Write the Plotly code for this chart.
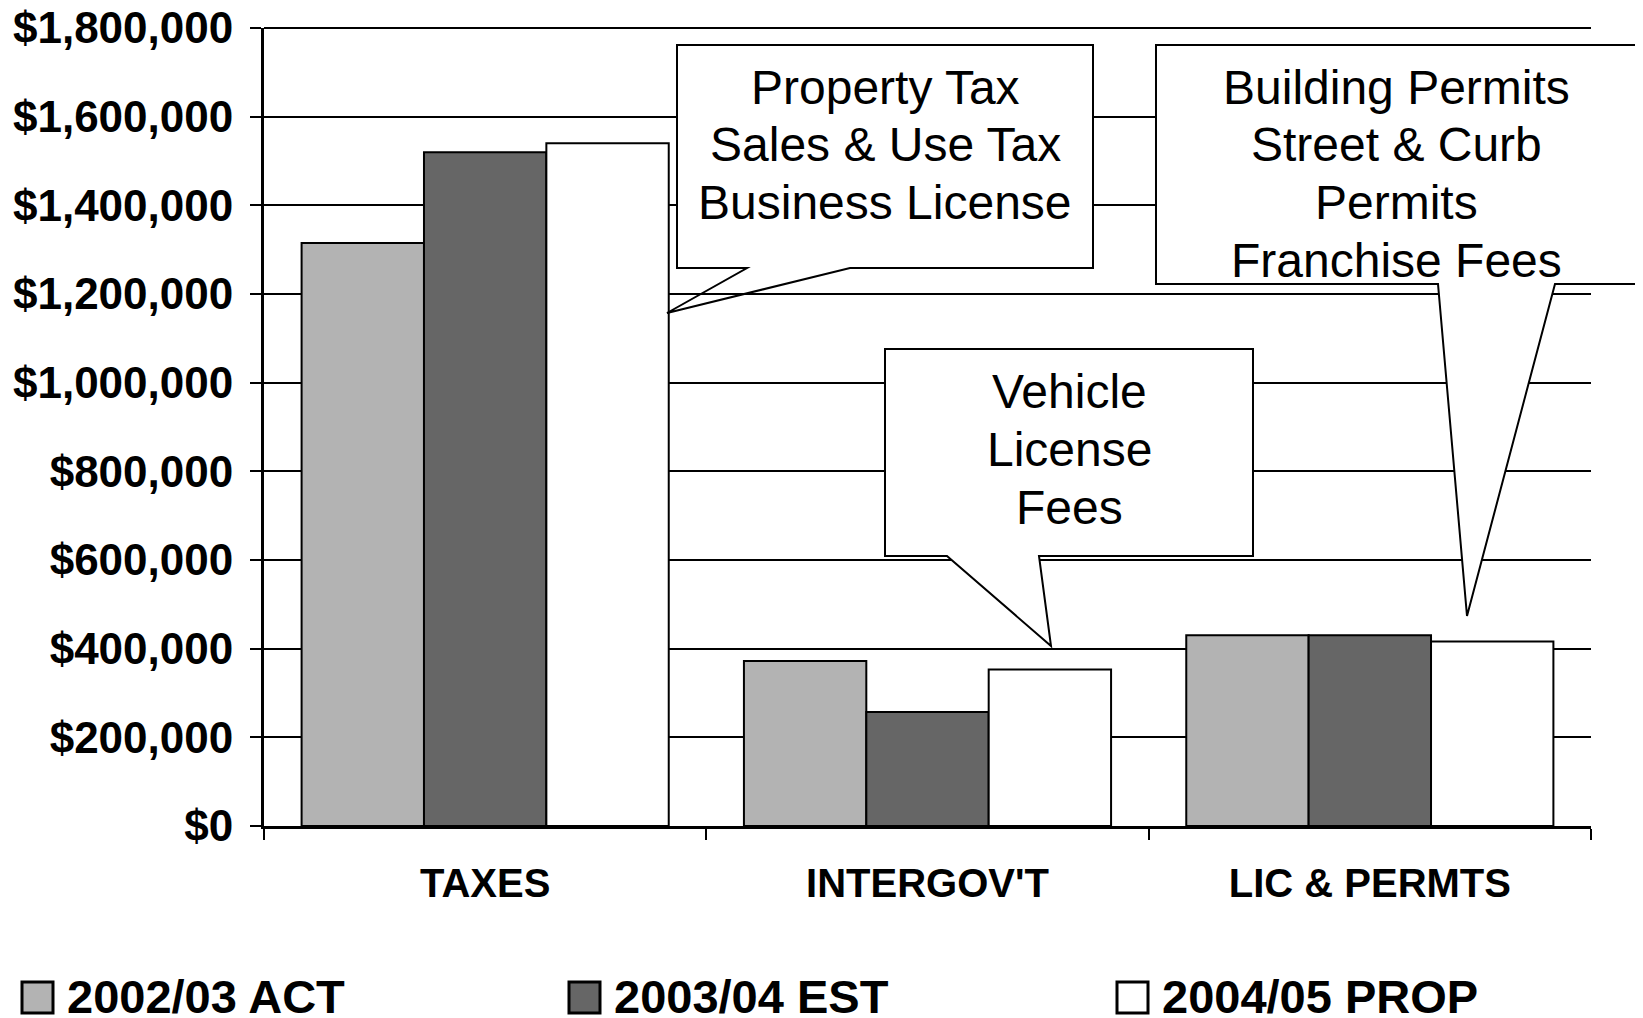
import plotly.graph_objects as go

# Data
categories = ["TAXES", "INTERGOV'T", "LIC & PERMTS"]
series_names = ["2002/03 ACT", "2003/04 EST", "2004/05 PROP"]
act_2002 = [1315000, 372000, 430000]
est_2003 = [1520000, 257000, 430000]
prop_2004 = [1540000, 353000, 416000]
series_colors = ["#b3b3b3", "#666666", "#ffffff"]
y_max = 1800000
y_step = 200000

callout_texts = [
    ["Property Tax", "Sales & Use Tax", "Business License"],
    ["Vehicle", "License", "Fees"],
    ["Building Permits", "Street & Curb", "Permits", "Franchise Fees"],
]

FONT = "Liberation Sans, Arial, sans-serif"

# page has an 8px body margin, so figure coords = page coords - 8
OFF = 8
W, H = 1643, 1018
L, R, T, B = 264 - OFF, 1591 - OFF, 28 - OFF, 826 - OFF


def px(x):
    return (x - OFF - L) / (R - L)


def py(y):
    return (B - (y - OFF)) / (B - T)


fig = go.Figure()
for name, vals, col in zip(series_names, [act_2002, est_2003, prop_2004], series_colors):
    fig.add_trace(go.Bar(
        x=categories, y=vals, name=name,
        marker=dict(color=col, line=dict(color="black", width=2)),
        showlegend=False,
    ))

fig.update_layout(
    width=W, height=H,
    margin=dict(l=L, r=W - R, t=T, b=H - B),
    paper_bgcolor="white", plot_bgcolor="white",
    barmode="group", bargap=0.17, bargroupgap=0,
    font=dict(family=FONT, color="black"),
)

fig.update_yaxes(
    range=[0, y_max], dtick=y_step, tickprefix="$", tickformat=",d",
    showgrid=True, gridcolor="black", gridwidth=2,
    showline=True, linecolor="black", linewidth=3,
    ticks="outside", ticklen=11, tickwidth=2, tickcolor="black",
    zeroline=False, ticklabelstandoff=8, automargin=False,
    ticklabeloverflow="allow",
    tickfont=dict(size=44, family=FONT, weight="bold"),
)
fig.update_xaxes(
    type="category", tickson="boundaries",
    showgrid=False, showline=True, linecolor="black", linewidth=3,
    ticks="outside", ticklen=11, tickwidth=2, tickcolor="black",
    ticklabelstandoff=20, automargin=False,
    tickfont=dict(size=40, family=FONT, weight="bold"),
)

shapes = []
annotations = []

# top gridline (plotly drops the grid line sitting on the range edge)
shapes.append(dict(type="line", xref="paper", yref="paper", x0=0, x1=1, y0=1, y1=1,
                   line=dict(color="black", width=2), layer="below"))

# callouts: box (left, top, right, bottom), tail base x1, x2 and tip, line centres
callouts = [
    dict(box=(677, 45, 1093, 268), base=(747, 850), tip=(667, 313),
         lines_y=[87, 145, 202], fill_tail=False),
    dict(box=(885, 349, 1253, 556), base=(947, 1039), tip=(1051, 646),
         lines_y=[391, 449, 507], fill_tail=True),
    dict(box=(1156, 45, 1637, 284), base=(1438, 1555), tip=(1467, 616),
         lines_y=[87, 145, 202, 260], fill_tail=True),
]

for c, texts in zip(callouts, callout_texts):
    l, t, r, b = c["box"]
    b1, b2 = c["base"]
    tx, ty = c["tip"]
    pts = [(l, t), (r, t), (r, b), (b2, b), (tx, ty), (b1, b), (l, b)]
    path = "M " + " L ".join(f"{px(x):.5f},{py(y):.5f}" for x, y in pts) + " Z"
    if c["fill_tail"]:
        shapes.append(dict(type="path", path=path, xref="paper", yref="paper",
                           fillcolor="white", line=dict(color="black", width=2),
                           layer="above"))
    else:
        shapes.append(dict(type="rect", xref="paper", yref="paper",
                           x0=px(l), x1=px(r), y0=py(b), y1=py(t),
                           fillcolor="white", line=dict(width=0), layer="above"))
        shapes.append(dict(type="path", path=path, xref="paper", yref="paper",
                           fillcolor="rgba(0,0,0,0)", line=dict(color="black", width=2),
                           layer="above"))
    cx = (l + r) / 2
    for txt, yy in zip(texts, c["lines_y"]):
        annotations.append(dict(text=txt, x=px(cx), y=py(yy), xref="paper", yref="paper",
                                xanchor="center", yanchor="middle", showarrow=False,
                                font=dict(size=48, family=FONT, color="black")))

# legend drawn below the plot
legend_sq_x = [22, 569, 1117]
for name, col, sx in zip(series_names, series_colors, legend_sq_x):
    shapes.append(dict(type="rect", xref="paper", yref="paper",
                       x0=px(sx), x1=px(sx + 31), y0=py(1013), y1=py(982),
                       fillcolor=col, line=dict(color="black", width=3)))
    annotations.append(dict(text=name, x=px(sx + 43), y=py(996), xref="paper", yref="paper",
                            xanchor="left", yanchor="middle", showarrow=False,
                            font=dict(size=47, family=FONT, color="black", weight="bold")))

fig.update_layout(shapes=shapes, annotations=annotations)

fig.write_html("out.html")
